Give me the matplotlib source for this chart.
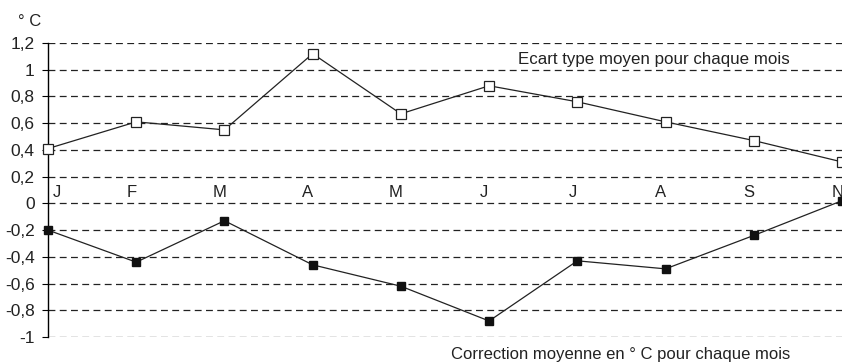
import matplotlib
matplotlib.use("Agg")
import matplotlib.pyplot as plt

months = ["J", "F", "M", "A", "M", "J", "J", "A", "S", "N"]
ecart = [0.41, 0.61, 0.55, 1.12, 0.67, 0.88, 0.76, 0.61, 0.47, 0.31]
correction = [-0.20, -0.44, -0.13, -0.46, -0.62, -0.88, -0.43, -0.49, -0.24, 0.02]
yticks = [1.2, 1.0, 0.8, 0.6, 0.4, 0.2, 0.0, -0.2, -0.4, -0.6, -0.8, -1.0]
ylabels = ["1,2", "1", "0,8", "0,6", "0,4", "0,2", "0", "-0,2", "-0,4", "-0,6", "-0,8", "-1"]

plt.rcParams['font.family'] = ['Liberation Sans', 'DejaVu Sans']

fig = plt.figure(figsize=(8.42, 3.63), dpi=100)
ax = fig.add_axes([48/842, 1-337/363, 1-48/842, (337-43)/363])
x = list(range(len(months)))

ax.set_xlim(0, len(months)-1)
ax.set_ylim(-1.0, 1.2)
ax.set_yticks(yticks)
ax.set_yticklabels(ylabels, fontsize=12.5, color='#222222')
ax.tick_params(axis='y', length=4, width=0.8, pad=5.5)
ax.set_xticks([])
for s in ['top', 'right', 'bottom']:
    ax.spines[s].set_visible(False)
ax.spines['left'].set_linewidth(1.0)
for yv in yticks:
    ax.axhline(yv, color='#222222', lw=0.9, ls=(0, (5.5, 3.5)), zorder=1)

ax.plot(x, ecart, color='#222222', lw=0.9, marker='s', ms=7.5, mfc='white',
        mec='#222222', mew=0.9, zorder=3, clip_on=False)
ax.plot(x, correction, color='#222222', lw=0.9, marker='s', ms=6, mfc='#111111',
        mec='#111111', zorder=3, clip_on=False)

for i, m in enumerate(months):
    xi = i - 0.055 if i > 0 else 0.1
    ax.text(xi, 0.025, m, ha='center', va='bottom', fontsize=12, color='#222222')

fig.text(30/842, 1-22/363, "° C", ha='center', va='center', fontsize=12, color='#222222')
ax.text(8.41, 1.075, "Ecart type moyen pour chaque mois",
        fontsize=12.2, color='#222222', ha='right', va='center')
fig.text(790/842, 1-355/363, "Correction moyenne en ° C pour chaque mois",
         fontsize=12, color='#222222', ha='right', va='center')

fig.savefig("out.png", dpi=100)
